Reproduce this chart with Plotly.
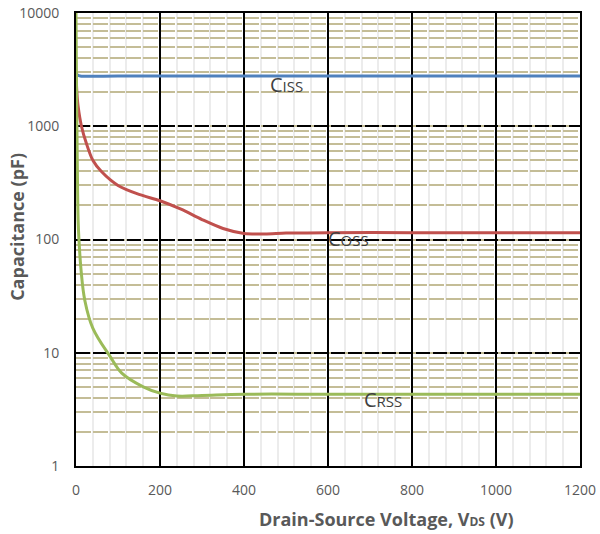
import plotly.graph_objects as go
import numpy as np

ciss_v = [0, 3, 10, 100, 400, 800, 1200]
ciss_c = [3000, 2850, 2780, 2780, 2780, 2780, 2780]

coss_v = [0, 2, 5, 13, 25, 40, 60, 100, 150, 200, 250, 300, 350, 400, 450, 500, 600, 800, 1000, 1200]
coss_c = [3000, 2000, 1500, 1000, 700, 500, 400, 300, 250, 220, 185, 150, 125, 113, 112, 114, 115, 115, 115, 115]

crss_v = [0, 1, 3, 5, 7, 12, 21, 40, 81, 109, 160, 200, 240, 300, 400, 600, 800, 1000, 1200]
crss_c = [10000, 3000, 500, 150, 100, 54, 29, 16.5, 9.3, 6.6, 5.0, 4.4, 4.15, 4.2, 4.3, 4.3, 4.3, 4.3, 4.3]

x_ticks = [0, 200, 400, 600, 800, 1000, 1200]
y_ticks = [1, 10, 100, 1000, 10000]

labels = [
    ("C<span style='font-size:15px'>ISS</span>", 502, 2360),
    ("C<span style='font-size:15px'>OSS</span>", 648, 103),
    ("C<span style='font-size:15px'>RSS</span>", 731, 3.83),
]

x_title = "<b>Drain-Source Voltage, V<span style='font-size:12px'>DS</span> (V)</b>"
y_title = "<b>Capacitance (pF)</b>"

font_family = "Open Sans, Lato, sans-serif"

fig = go.Figure()
fig.add_trace(go.Scatter(x=ciss_v, y=ciss_c, mode="lines",
                         line=dict(color="#4f81bd", width=3, shape="spline", smoothing=0.8), showlegend=False))
fig.add_trace(go.Scatter(x=coss_v, y=coss_c, mode="lines",
                         line=dict(color="#c0504d", width=3, shape="spline", smoothing=0.8), showlegend=False))
fig.add_trace(go.Scatter(x=crss_v, y=crss_c, mode="lines",
                         line=dict(color="#9bbb59", width=3, shape="spline", smoothing=1.1), showlegend=False))

for text, xv, yv in labels:
    fig.add_annotation(x=xv, y=np.log10(yv), xref="x", yref="y", text=text, showarrow=False,
                       font=dict(family=font_family, size=20, color="#404040"))

fig.add_annotation(x=0.617, y=-0.117, xref="paper", yref="paper", text=x_title, showarrow=False,
                   xanchor="center", yanchor="middle", font=dict(family=font_family, size=18, color="#595959"))
fig.add_annotation(x=-0.117, y=0.528, xref="paper", yref="paper", text=y_title, showarrow=False, textangle=-90,
                   xanchor="center", yanchor="middle", font=dict(family=font_family, size=18, color="#595959"))

fig.update_layout(
    width=600, height=534,
    margin=dict(l=76, r=20, t=13, b=68),
    paper_bgcolor="white", plot_bgcolor="white",
    font=dict(family=font_family, size=14, color="#595959"),
    xaxis=dict(
        range=[0, 1200], tickvals=x_ticks, ticktext=[str(v) for v in x_ticks],
        automargin=False,
        showgrid=True, gridcolor="black", gridwidth=2,
        minor=dict(dtick=40, showgrid=True, gridcolor="#ececec", gridwidth=2),
        showline=True, linecolor="black", linewidth=2, mirror=True,
        zeroline=False, ticks="", ticklabelstandoff=10,
    ),
    yaxis=dict(
        type="log", range=[0, 4], tickvals=y_ticks, ticktext=[str(v) for v in y_ticks],
        automargin=False,
        showgrid=True, gridcolor="black", gridwidth=2, griddash="14px,3px",
        minor=dict(dtick="D1", showgrid=True, gridcolor="#c4bd97", gridwidth=2, griddash="15px,1.8px"),
        showline=True, linecolor="black", linewidth=2, mirror=True,
        zeroline=False, ticks="", ticklabelstandoff=12,
    ),
)

fig.write_html("out.html", post_script="document.body.style.margin='0';",
               config={"displayModeBar": False})
